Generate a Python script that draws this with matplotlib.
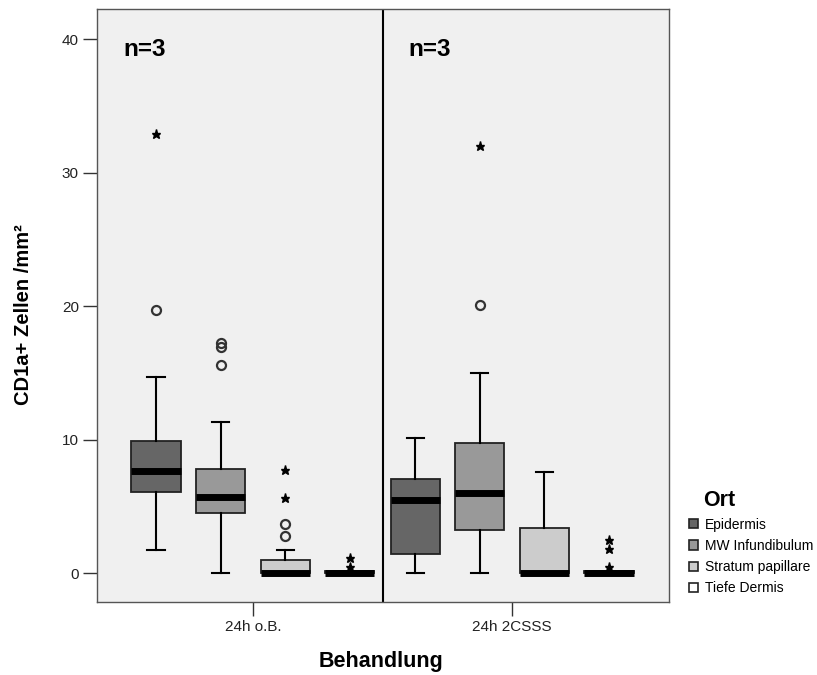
import matplotlib.pyplot as plt
from matplotlib.patches import Patch

plt.rcParams['font.family'] = ['Liberation Sans', 'DejaVu Sans']

behandlung = ['24h o.B.', '24h 2CSSS']
orte = ['Epidermis', 'MW Infundibulum', 'Stratum papillare', 'Tiefe Dermis']
farben = ['#666666', '#999999', '#cccccc', '#ffffff']

# Boxplot-Kennwerte je Behandlung (Reihenfolge wie orte)
q1 = [[6.07, 4.5, 0.0, 0.0], [1.42, 3.26, 0.0, 0.0]]
median = [[7.64, 5.72, 0.0, 0.0], [5.48, 6.01, 0.0, 0.0]]
q3 = [[9.93, 7.79, 0.95, 0.15], [7.05, 9.72, 3.41, 0.15]]
whis_lo = [[1.72, 0.0, 0.0, 0.0], [0.0, 0.0, 0.0, 0.0]]
whis_hi = [[14.67, 11.35, 1.72, 0.0], [10.13, 15.0, 7.61, 0.0]]

# Ausreisser (Kreise) und Extremwerte (Sterne)
ausreisser = [[[19.7], [17.2, 16.95, 15.56], [3.7, 2.76], []],
              [[], [20.1], [], []]]
extrem = [[[32.9], [], [7.7, 5.63], [1.1, 0.45]],
          [[], [32.0], [], [2.5, 1.78, 0.45]]]

offsets = [-0.374, -0.125, 0.125, 0.374]
breite = 0.19

fig = plt.figure(figsize=(8.17, 6.75), dpi=100)
ax = fig.add_axes([0.1187, 0.108, 0.7003, 0.8786])
ax.set_facecolor('#f0f0f0')

for g in range(len(behandlung)):
    for i in range(len(orte)):
        pos = g + offsets[i]
        stats = [{'med': median[g][i], 'q1': q1[g][i], 'q3': q3[g][i],
                  'whislo': whis_lo[g][i], 'whishi': whis_hi[g][i], 'fliers': []}]
        ax.bxp(stats, positions=[pos], widths=breite, patch_artist=True,
               showfliers=False,
               boxprops=dict(facecolor=farben[i], edgecolor='#222222', linewidth=1.3),
               medianprops=dict(color='black', linewidth=5, solid_capstyle='butt'),
               whiskerprops=dict(color='black', linewidth=1.5),
               capprops=dict(color='black', linewidth=1.5),
               capwidths=breite * 0.35)
        if ausreisser[g][i]:
            ax.plot([pos] * len(ausreisser[g][i]), ausreisser[g][i], 'o',
                    mfc='none', mec='#333333', mew=1.6, ms=6.5)
        if extrem[g][i]:
            ax.plot([pos] * len(extrem[g][i]), extrem[g][i], '*',
                    color='black', ms=6.5)

ax.axvline(0.5, color='black', linewidth=1.5)

ax.set_xlim(-0.602, 1.606)
ax.set_ylim(-2.17, 42.25)
ax.set_xticks([0, 1])
ax.set_xticklabels(behandlung)
ax.set_yticks([0, 10, 20, 30, 40])
ax.tick_params(axis='both', labelsize=11, length=10, width=1, pad=3,
               color='#333333', labelcolor='#222222')

for s in ax.spines.values():
    s.set_color('#555555')
    s.set_linewidth(1)

ax.text(-0.502, 38.7, 'n=3', fontsize=17.5, fontweight='bold', va='baseline')
ax.text(0.598, 38.7, 'n=3', fontsize=17.5, fontweight='bold', va='baseline')

ax.set_ylabel('CD1a+ Zellen /mm²', fontsize=14.5, fontweight='bold')
ax.yaxis.set_label_coords(-0.112, 0.484)
ax.set_xlabel('Behandlung', fontsize=15.5, fontweight='bold')
ax.xaxis.set_label_coords(0.497, -0.082)

fig.text(703 / 817, 1 - 500 / 675, 'Ort', fontsize=15.5, fontweight='bold', va='center')
handles = [Patch(facecolor=c, edgecolor='#222222', linewidth=1.2) for c in farben]
fig.legend(handles, orte, loc='upper left', bbox_to_anchor=(0.843, 0.233),
           frameon=False, fontsize=10,
           handlelength=0.65, handleheight=0.65, handletextpad=0.5,
           labelspacing=0.52, borderaxespad=0, borderpad=0)

fig.savefig('out.png', dpi=100)
